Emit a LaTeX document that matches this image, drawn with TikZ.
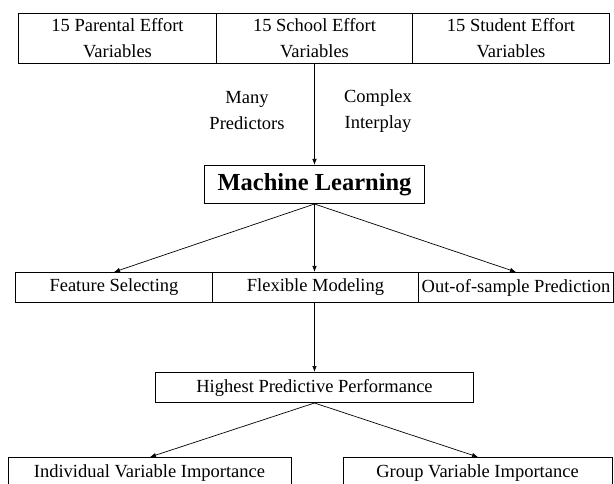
\documentclass[tikz,border=0pt]{standalone}
\usepackage{fontspec}
\setmainfont{Liberation Serif}
\usetikzlibrary{arrows.meta}
\begin{document}
\begin{tikzpicture}[x=1pt,y=-1pt,
  cell/.style={draw, line width=1pt, inner sep=0pt, anchor=north west, align=center,
               font=\fontsize{18.5}{26}\selectfont},
  title/.style={cell, font=\fontsize{24.5}{28}\bfseries\selectfont},
  note/.style={align=center, inner sep=0pt, font=\fontsize{18.5}{26}\selectfont},
  link/.style={draw, line width=0.7pt, -{Latex[length=6pt,width=4.5pt]}}]
  \useasboundingbox (0,0) rectangle (614,484);
  \clip (0,0) rectangle (614,484);

  % row of input variable groups
  \node[cell, minimum width=198pt, minimum height=50pt] (par) at (18,13) {15 Parental Effort\\Variables};
  \node[cell, minimum width=196pt, minimum height=50pt] (sch) at (216,13) {15 School Effort\\Variables};
  \node[cell, minimum width=197pt, minimum height=50pt] (stu) at (412,13) {15 Student Effort\\Variables};

  % reasons for the method
  \node[note] (many) at (247,111) {Many\\Predictors};
  \node[note] (cplx) at (378,111) {Complex\\Interplay};

  % method
  \node[title, minimum width=220pt, minimum height=38pt] (ml) at (204,165) {Machine Learning};

  % strengths of the method
  \node[cell, minimum width=197pt, minimum height=30pt] (feat) at (15,272) {Feature Selecting};
  \node[cell, minimum width=206pt, minimum height=30pt] (flex) at (212,272) {Flexible Modeling};
  \node[cell, minimum width=195pt, minimum height=30pt] (oos) at (418,272) {Out-of-sample Prediction};

  % outcome
  \node[cell, minimum width=318pt, minimum height=30pt] (hpp) at (155,372) {Highest Predictive Performance};

  % importance measures
  \node[cell, minimum width=283pt, minimum height=44pt, anchor=north west, text depth=0pt] (ivi) at (8,457) {};
  \node[note, anchor=north] at (149.5,464) {Individual Variable Importance};
  \node[cell, minimum width=269pt, minimum height=44pt] (gvi) at (343,457) {};
  \node[note, anchor=north] at (477.5,464) {Group Variable Importance};

  % connectors
  \draw[link] (ml.north |- sch.south) -- (ml.north);
  \draw[link] (ml.south) -- (feat.north);
  \draw[link] (ml.south) -- (ml.south |- flex.north);
  \draw[link] (ml.south) -- (oos.north);
  \draw[link] (hpp.north |- flex.south) -- (hpp.north);
  \draw[link] (hpp.south) -- (ivi.north);
  \draw[link] (hpp.south) -- (gvi.north);
\end{tikzpicture}
\end{document}
